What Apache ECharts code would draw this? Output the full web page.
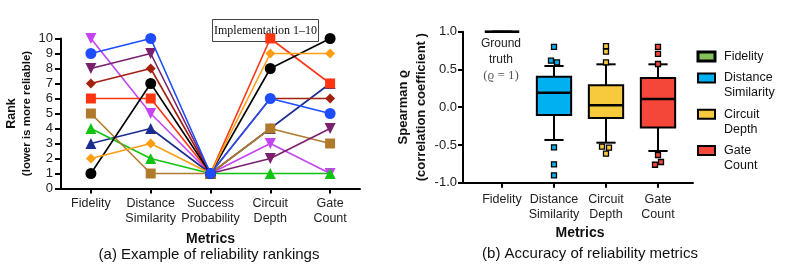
<!DOCTYPE html>
<html><head><meta charset="utf-8">
<script src="https://cdn.jsdelivr.net/npm/echarts@6/dist/echarts.min.js"></script>
<style>html,body{margin:0;padding:0;background:#fff}#c{width:797px;height:273px}</style>
</head><body><div id="c"></div>
<script>
// ---------- data: (a) ranking chart ----------
const rankMetrics = ['Fidelity', 'Distance\nSimilarity', 'Success\nProbability', 'Circuit\nDepth', 'Gate\nCount'];
const implBlack      = [1, 7, 1, 8, 10];
const implOrange     = [2, 3, 1, 9, 9];
const implNavy       = [3, 4, 1, 4, 7];
const implGreen      = [4, 2, 1, 1, 1];
const implBrown      = [5, 1, 1, 4, 3];
const implRed        = [6, 6, 1, 10, 7];
const implDarkRed    = [7, 8, 1, 6, 6];
const implDarkPurple = [8, 9, 1, 2, 4];
const implBlue       = [9, 10, 1, 6, 5];
const implViolet     = [10, 5, 1, 3, 1];

// ---------- data: (b) box plot ----------
const boxCategories = ['Fidelity', 'Distance\nSimilarity', 'Circuit\nDepth', 'Gate\nCount'];
// [min whisker, q1, median, q3, max whisker]
const fidelityBox = [1, 1, 1, 1, 1];
const distanceBox = [-0.434, -0.103, 0.192, 0.404, 0.546];
const circuitBox  = [-0.47, -0.143, 0.025, 0.29, 0.568];
const gateBox     = [-0.58, -0.27, 0.109, 0.387, 0.568];
const distanceOutliers = [0.80, 0.616, 0.595, -0.531, -0.756, -0.902];
const circuitOutliers  = [0.81, 0.735, 0.595, -0.523, -0.536, -0.616];
const gateOutliers     = [0.80, 0.705, 0.572, -0.633, -0.726, -0.762];

// ---------- styles ----------
const FONT = "'Liberation Sans', Arial, sans-serif";
const SERIF = "'Liberation Serif', 'Times New Roman', serif";
const lineStyles = [
  { name: 'violet', data: implViolet, color: '#c444f2', symbol: 'triangle', rot: 180 },
  { name: 'navy', data: implNavy, color: '#1c2c90', symbol: 'triangle', rot: 0 },
  { name: 'green', data: implGreen, color: '#12c412', symbol: 'triangle', rot: 0 },
  { name: 'brown', data: implBrown, color: '#b07a2c', symbol: 'rect', rot: 0 },
  { name: 'red', data: implRed, color: '#ff3512', symbol: 'rect', rot: 0 },
  { name: 'darkred', data: implDarkRed, color: '#a3200e', symbol: 'diamond', rot: 0 },
  { name: 'darkpurple', data: implDarkPurple, color: '#7a206c', symbol: 'triangle', rot: 180 },
  { name: 'black', data: implBlack, color: '#000000', symbol: 'circle', rot: 0 },
  { name: 'orange', data: implOrange, color: '#ff9e14', symbol: 'diamond', rot: 0 },
  { name: 'blue', data: implBlue, color: '#1e4cff', symbol: 'circle', rot: 0 }
];
const boxColors = { Fidelity: '#86c05a', Distance: '#00b0f0', Circuit: '#f7c93c', Gate: '#f4473a' };
const distanceJitter = [0, -3, 3, 0, 0, 0];
const circuitJitter  = [0, 0, 0, -4, 3, 0];
const gateJitter     = [0, 0, 0, 0, 3, -3];

const chart = echarts.init(document.getElementById('c'), null, { renderer: 'canvas' });

function renderBox(color) {
  return function (params, api) {
    const idx = api.value(0);
    const pLo = api.coord([idx, api.value(1)]);
    const pQ1 = api.coord([idx, api.value(2)]);
    const pMed = api.coord([idx, api.value(3)]);
    const pQ3 = api.coord([idx, api.value(4)]);
    const pHi = api.coord([idx, api.value(5)]);
    const band = api.size([1, 0])[0];
    const bw = band * 0.66, cw = band * 0.37;
    const x = pMed[0];
    const st = { stroke: '#000', lineWidth: 2 };
    return {
      type: 'group', children: [
        { type: 'line', shape: { x1: x, y1: pHi[1], x2: x, y2: pQ3[1] }, style: st },
        { type: 'line', shape: { x1: x, y1: pQ1[1], x2: x, y2: pLo[1] }, style: st },
        { type: 'line', shape: { x1: x - cw / 2, y1: pHi[1], x2: x + cw / 2, y2: pHi[1] }, style: st },
        { type: 'line', shape: { x1: x - cw / 2, y1: pLo[1], x2: x + cw / 2, y2: pLo[1] }, style: st },
        { type: 'rect', shape: { x: x - bw / 2, y: pQ3[1], width: bw, height: pQ1[1] - pQ3[1] }, style: { fill: color, stroke: '#000', lineWidth: 2 } },
        { type: 'line', shape: { x1: x - bw / 2, y1: pMed[1], x2: x + bw / 2, y2: pMed[1] }, style: { stroke: '#000', lineWidth: 2.6 } }
      ]
    };
  };
}

function boxSeries(name, idx, stats, color) {
  return {
    type: 'custom', name: name, xAxisIndex: 2, yAxisIndex: 2, clip: false,
    data: [[idx].concat(stats)], encode: { x: 0, y: [1, 2, 3, 4, 5] },
    renderItem: renderBox(color), z: 3
  };
}
function outlierSeries(name, idx, vals, jitter, color) {
  return {
    type: 'scatter', name: name, xAxisIndex: 2, yAxisIndex: 2, symbol: 'rect', symbolSize: 5,
    data: vals.map((v, i) => ({ value: [idx, v], symbolOffset: [jitter[i], 0] })),
    itemStyle: { color: color, borderColor: '#000', borderWidth: 1.3, opacity: 1 }, z: 4
  };
}

const series = lineStyles.map((s, i) => ({
  type: 'line', name: s.name, xAxisIndex: 0, yAxisIndex: 0, data: s.data,
  symbol: s.symbol, symbolSize: s.symbol === 'rect' ? 10 : (s.symbol === 'diamond' ? 10 : 11), symbolRotate: s.rot,
  showSymbol: true, showAllSymbol: true, clip: false,
  lineStyle: { color: s.color, width: 1.6 }, itemStyle: { color: s.color }, z: 2 + i * 0.01
}));
series.push(boxSeries('Fidelity', 0, fidelityBox, boxColors.Fidelity));
series.push(boxSeries('Distance Similarity', 1, distanceBox, boxColors.Distance));
series.push(boxSeries('Circuit Depth', 2, circuitBox, boxColors.Circuit));
series.push(boxSeries('Gate Count', 3, gateBox, boxColors.Gate));
series.push(outlierSeries('Distance outliers', 1, distanceOutliers, distanceJitter, boxColors.Distance));
series.push(outlierSeries('Circuit outliers', 2, circuitOutliers, circuitJitter, boxColors.Circuit));
series.push(outlierSeries('Gate outliers', 3, gateOutliers, gateJitter, boxColors.Gate));

const axisLine = { show: true, onZero: false, lineStyle: { color: '#000', width: 2 } };
const tickStyle = { color: '#000', width: 2 };

const legendItems = [
  { text: 'Fidelity', color: boxColors.Fidelity, cy: 56.5, bw: 3 },
  { text: 'Distance\nSimilarity', color: boxColors.Distance, cy: 78, bw: 2 },
  { text: 'Circuit\nDepth', color: boxColors.Circuit, cy: 114.3, bw: 2 },
  { text: 'Gate\nCount', color: boxColors.Gate, cy: 150.6, bw: 2 }
];
const graphics = [];
legendItems.forEach(it => {
  graphics.push({ type: 'rect', shape: { x: 698, y: it.cy - 4.5, width: 17, height: 9 }, style: { fill: it.color, stroke: '#000', lineWidth: it.bw } });
  graphics.push({ type: 'text', x: 724, y: it.cy - 7.5, style: { text: it.text, font: '12.5px ' + FONT, fill: '#111', lineHeight: 15, verticalAlign: 'top', align: 'left' } });
});
graphics.push({ type: 'rect', shape: { x: 212.5, y: 19.5, width: 106, height: 22 }, style: { fill: '#fff', stroke: '#444', lineWidth: 1 } });
graphics.push({ type: 'text', x: 265.5, y: 30.5, style: { text: 'Implementation 1\u201310', font: '12px ' + SERIF, fill: '#111', align: 'center', verticalAlign: 'middle' } });
graphics.push({ type: 'text', x: 501, y: 44, style: { text: 'Ground', font: '12px ' + FONT, fill: '#222', align: 'center', verticalAlign: 'middle' } });
graphics.push({ type: 'text', x: 501, y: 59.5, style: { text: 'truth', font: '12px ' + FONT, fill: '#222', align: 'center', verticalAlign: 'middle' } });
graphics.push({ type: 'text', x: 501, y: 76, style: { text: '(\u03f1 = 1)', font: '13px ' + SERIF, fill: '#555', align: 'center', verticalAlign: 'middle' } });
graphics.push({ type: 'text', x: 209, y: 255, style: { text: '(a) Example of reliability rankings', font: '15px ' + FONT, fill: '#111', align: 'center', verticalAlign: 'middle' } });
graphics.push({ type: 'text', x: 590, y: 254, style: { text: '(b) Accuracy of reliability metrics', font: '15px ' + FONT, fill: '#111', align: 'center', verticalAlign: 'middle' } });

const option = {
  animation: false,
  textStyle: { fontFamily: FONT },
  grid: [
    { left: 61, top: 38.5, width: 299, height: 150 },
    { left: 463, top: 31.7, width: 230, height: 151 },
    { left: 476, top: 31.7, width: 208, height: 151 }
  ],
  xAxis: [
    {
      type: 'category', gridIndex: 0, data: rankMetrics, boundaryGap: true,
      axisLine: axisLine, axisTick: { show: true, alignWithLabel: true, length: 5, lineStyle: tickStyle },
      axisLabel: { fontSize: 12.5, color: '#222', lineHeight: 15, margin: 8, interval: 0 },
      name: 'Metrics', nameLocation: 'middle', nameGap: 44,
      nameTextStyle: { fontSize: 14, fontWeight: 'bold', color: '#111' }
    },
    {
      type: 'value', gridIndex: 1, min: 0, max: 1,
      axisLine: axisLine, axisTick: { show: false }, axisLabel: { show: false }, splitLine: { show: false }
    },
    {
      type: 'category', gridIndex: 2, data: boxCategories, boundaryGap: true,
      axisLine: { show: false, onZero: false }, axisTick: { show: true, alignWithLabel: true, length: 5, lineStyle: tickStyle },
      axisLabel: { fontSize: 12.5, color: '#222', lineHeight: 15, margin: 9, interval: 0 },
      name: 'Metrics', nameLocation: 'middle', nameGap: 42,
      nameTextStyle: { fontSize: 14, fontWeight: 'bold', color: '#111' }
    }
  ],
  yAxis: [
    {
      type: 'value', gridIndex: 0, min: 0, max: 10, interval: 1,
      axisLine: axisLine, axisTick: { show: true, length: 6, lineStyle: tickStyle },
      axisLabel: { fontSize: 13, color: '#222', margin: 8 }, splitLine: { show: false },
      name: '{a|Rank}\n{b|(lower is more reliable)}', nameLocation: 'middle', nameRotate: 90, nameGap: 27,
      nameTextStyle: {
        color: '#111', lineHeight: 15,
        rich: {
          a: { fontSize: 12.5, fontWeight: 'bold', color: '#111', lineHeight: 15, fontFamily: FONT },
          b: { fontSize: 11.5, fontWeight: 'bold', color: '#111', lineHeight: 15, fontFamily: FONT }
        }
      }
    },
    {
      type: 'value', gridIndex: 1, min: -1, max: 1, interval: 0.5,
      axisLine: axisLine, axisTick: { show: true, length: 5, lineStyle: tickStyle },
      axisLabel: { fontSize: 13, color: '#222', margin: 6, formatter: v => v.toFixed(1) }, splitLine: { show: false },
      name: 'Spearman \u03f1\n(correlation coefficient )', nameLocation: 'middle', nameRotate: 90, nameGap: 32,
      nameTextStyle: { fontSize: 13, fontWeight: 'bold', color: '#111', lineHeight: 18 }
    },
    {
      type: 'value', gridIndex: 2, min: -1, max: 1, show: false
    }
  ],
  graphic: graphics,
  series: series
};
chart.setOption(option);
</script>
</body></html>
